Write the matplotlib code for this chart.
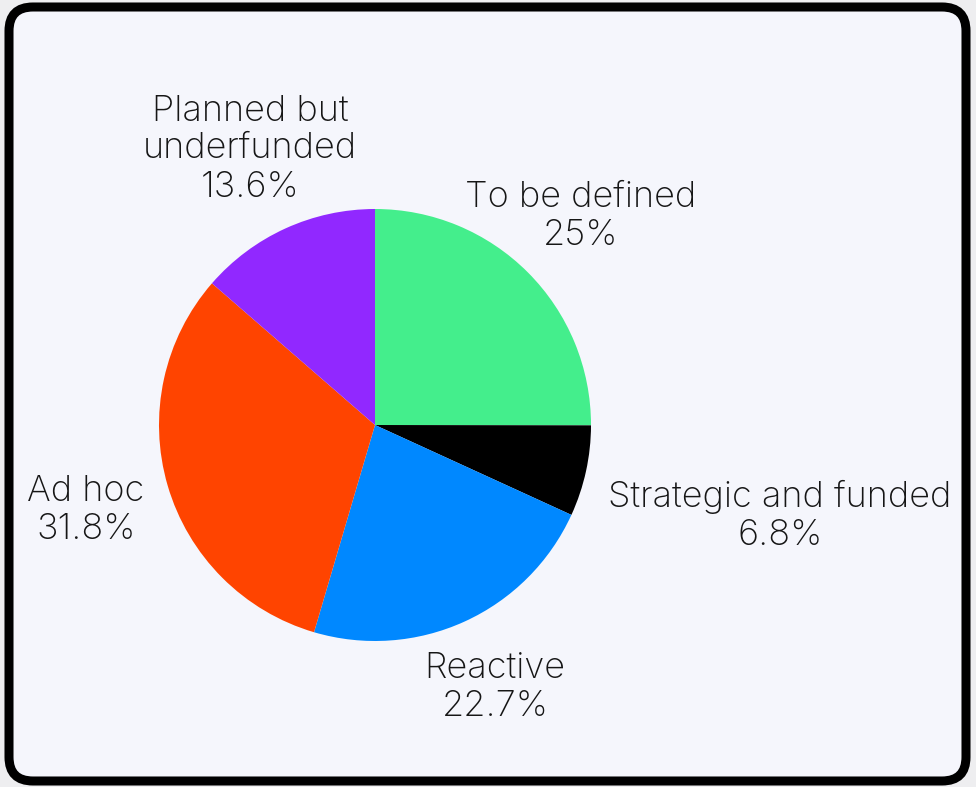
import matplotlib.pyplot as plt
from matplotlib.patches import FancyBboxPatch

categories = ['To be defined', 'Strategic and funded', 'Reactive', 'Ad hoc',
              'Planned but\nunderfunded']
shares = [25.0, 6.8, 22.7, 31.8, 13.6]
colors = ['#44ee8c', '#000000', '#0088ff', '#ff4400', '#9128ff']

# label centres, in units of the pie radius
label_pos = [(0.954, 0.965), (1.875, -0.42), (0.556, -1.215),
             (-1.338, -0.394), (-0.579, 1.278)]


def fmt(v):
    return f'{v:g}%'


def main():
    plt.rcParams['font.family'] = ['Inter', 'DejaVu Sans']
    W, H = 976, 787
    fig = plt.figure(figsize=(W / 100, H / 100), dpi=100, facecolor='#eeeef0')

    # rounded card behind the chart
    bg = fig.add_axes([0, 0, 1, 1])
    bg.set_xlim(0, W)
    bg.set_ylim(0, H)
    bg.axis('off')
    card = FancyBboxPatch((9, 6), 957, 774,
                          boxstyle='round,pad=0,rounding_size=24',
                          facecolor='#f5f6fc', edgecolor='black',
                          linewidth=6.5)
    bg.add_patch(card)

    cx, cy, r = 375, 787 - 425, 216
    ax = fig.add_axes([(cx - r) / W, (cy - r) / H, 2 * r / W, 2 * r / H])
    ax.set_facecolor('none')
    ax.pie(shares, colors=colors, startangle=90, counterclock=False,
           radius=1, wedgeprops=dict(linewidth=0))
    ax.set_xlim(-1, 1)
    ax.set_ylim(-1, 1)
    ax.set_aspect('equal')
    ax.axis('off')

    for name, v, (x, y) in zip(categories, shares, label_pos):
        ax.text(x, y, f'{name}\n{fmt(v)}', ha='center', va='center',
                fontsize=26, fontweight='light', color='#161616',
                linespacing=1.2, clip_on=False)

    fig.savefig('out.png', dpi=100, facecolor=fig.get_facecolor())


if __name__ == '__main__':
    main()
